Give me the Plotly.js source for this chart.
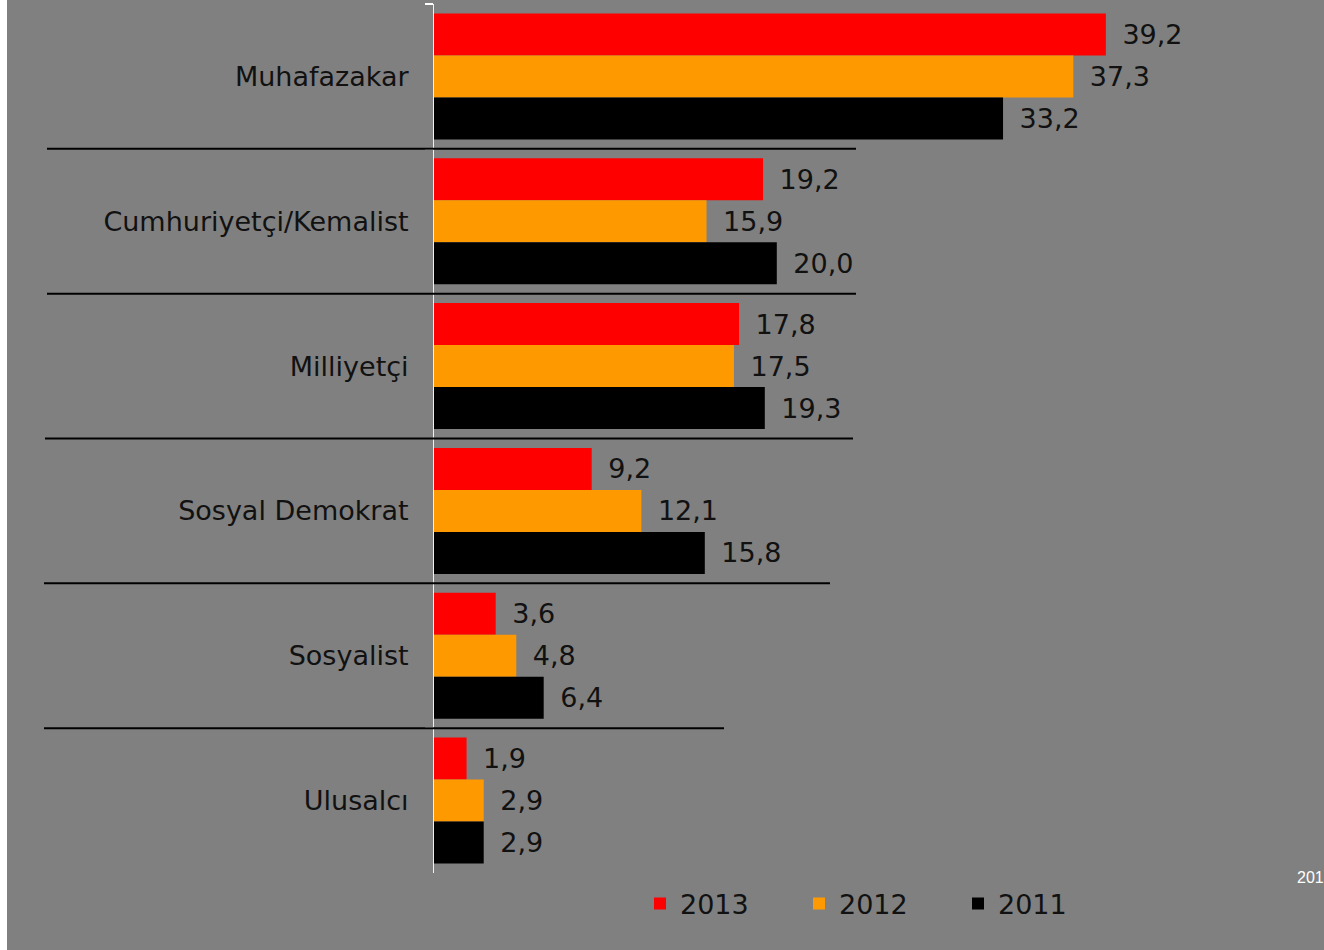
<!DOCTYPE html>
<html>
<head>
<meta charset="utf-8">
<script src="https://cdn.plot.ly/plotly-3.0.1.min.js"></script>
<style>
  html, body { margin: 0; padding: 0; background: #808080; }
  #chart { width: 1324px; height: 950px; }
</style>
</head>
<body>
<div id="chart"></div>
<script>
const categories = ["Muhafazakar", "Cumhuriyetçi/Kemalist", "Milliyetçi", "Sosyal Demokrat", "Sosyalist", "Ulusalcı"];
const values2013 = [39.2, 19.2, 17.8, 9.2, 3.6, 1.9];
const values2012 = [37.3, 15.9, 17.5, 12.1, 4.8, 2.9];
const values2011 = [33.2, 20.0, 19.3, 15.8, 6.4, 2.9];
const seriesNames = ["2013", "2012", "2011"];

const W = 1324, H = 950;
const mL = 434, mR = 33, mT = 4, mB = 77;
const pw = W - mL - mR, ph = H - mT - mB;
const px = (x) => (x - mL) / pw;          // pixel -> paper x
const py = (y) => (H - mB - y) / ph;      // pixel -> paper y

const font = "DejaVu Sans, Verdana, sans-serif";
const txt = "#111111";

function mk(name, vals, color) {
  return {
    type: "bar", orientation: "h", name: name,
    x: vals, y: categories,
    marker: { color: color, line: { width: 0 } },
    texttemplate: "\u2002%{x:.1f}",
    textposition: "outside",
    cliponaxis: false,
    textfont: { family: font, size: 27, color: txt },
    hoverinfo: "x+y"
  };
}

const data = [
  mk(seriesNames[0], values2013, "#FF0000"),
  mk(seriesNames[1], values2012, "#FF9900"),
  mk(seriesNames[2], values2011, "#000000")
];

// separator lines between categories (left end, right end in pixels)
const sepLines = [[47, 856], [47, 856], [45, 853], [44, 830], [44, 724]];
const shapes = [
  { type: "rect", xref: "paper", yref: "paper", x0: px(0), x1: px(7), y0: py(950), y1: py(0),
    fillcolor: "#ffffff", line: { width: 0 }, layer: "below" }
];
sepLines.forEach((s, i) => {
  const yb = 1 - (i + 1) / categories.length;
  shapes.push({ type: "line", xref: "paper", yref: "paper", x0: px(s[0]), x1: px(s[1]), y0: yb, y1: yb,
    line: { color: "#000000", width: 2 }, layer: "above" });
});

const layout = {
  width: W, height: H,
  margin: { l: mL, r: mR, t: mT, b: mB, pad: 0 },
  paper_bgcolor: "#808080", plot_bgcolor: "#808080",
  separators: ",.",
  barmode: "group", bargap: 0.13, bargroupgap: 0,
  font: { family: font, size: 27, color: txt },
  showlegend: true,
  legend: {
    orientation: "h", xref: "paper", yref: "paper",
    x: px(640), y: py(904), xanchor: "left", yanchor: "middle",
    bgcolor: "rgba(0,0,0,0)", borderwidth: 0,
    entrywidth: 114, entrywidthmode: "pixels",
    font: { family: font, size: 27, color: txt },
    traceorder: "normal", itemclick: false
  },
  xaxis: { range: [0, 50], visible: false, showgrid: false, zeroline: false, fixedrange: true },
  yaxis: {
    type: "category", autorange: "reversed",
    showline: true, linecolor: "#f0f0f0", linewidth: 1,
    ticks: "outside", tickson: "boundaries", ticklen: 8, tickcolor: "#ffffff", tickwidth: 1.5,
    ticklabelstandoff: 19,
    showgrid: false, zeroline: false,
    tickfont: { family: font, size: 27, color: txt },
    fixedrange: true
  },
  shapes: shapes,
  annotations: [
    { xref: "paper", yref: "paper", x: px(1295), y: py(877), xanchor: "left", yanchor: "middle",
      text: "201", showarrow: false, font: { family: "Liberation Sans, Arial, sans-serif", size: 16, color: "#ffffff" } }
  ]
};

Plotly.newPlot("chart", data, layout, { displayModeBar: false, staticPlot: true });
</script>
</body>
</html>
